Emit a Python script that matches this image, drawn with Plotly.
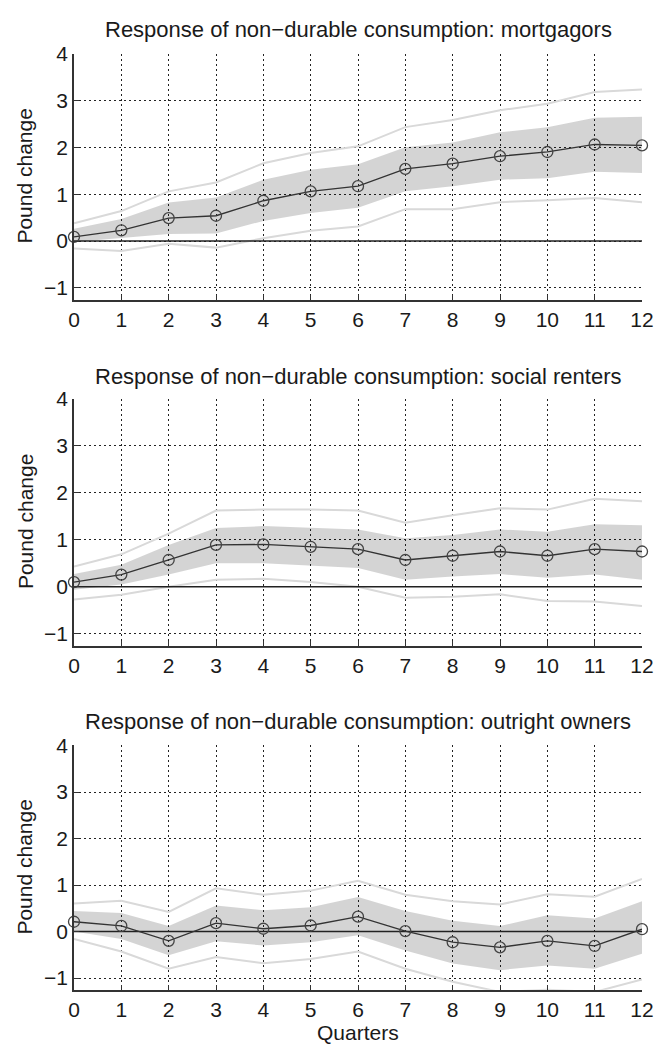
import plotly.graph_objects as go

quarters = list(range(13))
x_ticks = list(range(13))
y_ticks = [-1, 0, 1, 2, 3, 4]

titles = [
    "Response of non\u2212durable consumption: mortgagors",
    "Response of non\u2212durable consumption: social renters",
    "Response of non\u2212durable consumption: outright owners",
]

# mortgagors
mort_pt = [0.09, 0.23, 0.49, 0.54, 0.86, 1.06, 1.17, 1.54, 1.65, 1.81, 1.90, 2.06, 2.04]
mort_band_hi = [0.26, 0.47, 0.82, 0.93, 1.31, 1.52, 1.64, 2.00, 2.10, 2.32, 2.43, 2.63, 2.65]
mort_band_lo = [-0.02, 0.06, 0.15, 0.16, 0.43, 0.60, 0.71, 1.06, 1.17, 1.31, 1.34, 1.48, 1.45]
mort_out_hi = [0.38, 0.64, 1.06, 1.25, 1.66, 1.88, 2.02, 2.43, 2.58, 2.79, 2.93, 3.18, 3.23]
mort_out_lo = [-0.16, -0.21, -0.06, -0.14, 0.06, 0.22, 0.31, 0.68, 0.68, 0.83, 0.87, 0.92, 0.83]

# social renters
soc_pt = [0.10, 0.26, 0.57, 0.89, 0.90, 0.85, 0.80, 0.57, 0.66, 0.75, 0.66, 0.80, 0.75]
soc_band_hi = [0.27, 0.47, 0.89, 1.25, 1.29, 1.26, 1.22, 1.03, 1.10, 1.22, 1.17, 1.33, 1.31]
soc_band_lo = [-0.06, 0.05, 0.26, 0.50, 0.50, 0.45, 0.40, 0.15, 0.22, 0.27, 0.19, 0.26, 0.15]
soc_out_hi = [0.43, 0.69, 1.13, 1.62, 1.64, 1.64, 1.62, 1.36, 1.52, 1.67, 1.64, 1.87, 1.82]
soc_out_lo = [-0.27, -0.17, 0.00, 0.15, 0.17, 0.10, 0.00, -0.23, -0.21, -0.16, -0.30, -0.31, -0.41]

# outright owners
own_pt = [0.21, 0.12, -0.20, 0.18, 0.06, 0.13, 0.32, 0.01, -0.23, -0.34, -0.20, -0.31, 0.05]
own_band_hi = [0.44, 0.40, 0.12, 0.56, 0.46, 0.52, 0.74, 0.44, 0.23, 0.12, 0.35, 0.28, 0.65]
own_band_lo = [0.00, -0.16, -0.51, -0.21, -0.30, -0.23, -0.08, -0.41, -0.69, -0.83, -0.73, -0.80, -0.48]
own_out_hi = [0.60, 0.66, 0.42, 0.93, 0.79, 0.88, 1.09, 0.79, 0.65, 0.58, 0.80, 0.75, 1.13]
own_out_lo = [-0.16, -0.43, -0.80, -0.55, -0.68, -0.59, -0.43, -0.80, -1.08, -1.30, -1.25, -1.30, -1.03]

panels = [
    (mort_pt, mort_band_lo, mort_band_hi, mort_out_lo, mort_out_hi),
    (soc_pt, soc_band_lo, soc_band_hi, soc_out_lo, soc_out_hi),
    (own_pt, own_band_lo, own_band_hi, own_out_lo, own_out_hi),
]

W, H = 656, 1047
# pixel rows of plot areas (top, bottom)
rows_px = [(42, 291), (391, 641), (742, 989)]
title_px = [18, 369, 718]

FONT = "Liberation Sans, Arial, Helvetica, sans-serif"
TXT = "#1a1a1a"
fig = go.Figure()

for i, (pt, blo, bhi, olo, ohi) in enumerate(panels):
    xa = "x" if i == 0 else f"x{i+1}"
    ya = "y" if i == 0 else f"y{i+1}"
    fig.add_trace(go.Scatter(x=quarters, y=blo, mode="lines", line=dict(width=0, color="rgba(0,0,0,0)"),
                             xaxis=xa, yaxis=ya, showlegend=False, hoverinfo="skip"))
    fig.add_trace(go.Scatter(x=quarters, y=bhi, mode="lines", line=dict(width=0, color="rgba(0,0,0,0)"),
                             fill="tonexty", fillcolor="rgba(0,0,0,0.17)",
                             xaxis=xa, yaxis=ya, showlegend=False, hoverinfo="skip"))
    for o in (olo, ohi):
        fig.add_trace(go.Scatter(x=quarters, y=o, mode="lines", line=dict(width=2, color="#d9d9d9"),
                                 xaxis=xa, yaxis=ya, showlegend=False))
    fig.add_trace(go.Scatter(x=quarters, y=[0] * len(quarters), mode="lines",
                             line=dict(width=1.5, color="#222"),
                             xaxis=xa, yaxis=ya, showlegend=False))
    fig.add_trace(go.Scatter(x=quarters, y=pt, mode="lines+markers",
                             line=dict(width=1.3, color="#333"),
                             marker=dict(symbol="circle-open", size=11, color="#444", line=dict(width=1.3)),
                             cliponaxis=False, xaxis=xa, yaxis=ya, showlegend=False))

    top, bot = rows_px[i]
    dom = [1 - bot / H, 1 - top / H]
    axis_common = dict(showgrid=True, gridcolor="#222", griddash="2px,3px", gridwidth=1,
                       showline=True, linecolor="#333", linewidth=1.5, ticks="inside",
                       ticklen=5, tickcolor="#333", zeroline=False,
                       tickfont=dict(family=FONT, size=21, color=TXT))
    fig.layout[("xaxis" if i == 0 else f"xaxis{i+1}")] = dict(
        axis_common, range=[0, 12], tickvals=x_ticks, anchor=ya, domain=[0, 1])
    fig.layout[("yaxis" if i == 0 else f"yaxis{i+1}")] = dict(
        axis_common, range=[-1.25, 4], tickvals=y_ticks, anchor=xa, domain=dom,
        tickformat="d")
    fig.add_annotation(text=titles[i], xref="paper", yref="paper", x=0.5, y=1 - title_px[i] / H,
                       xanchor="center", yanchor="middle", showarrow=False,
                       font=dict(family=FONT, size=22, color=TXT))
    fig.add_annotation(text="Pound change", xref="paper", yref="paper", x=(25 - 74) / 568,
                       y=1 - ((top + bot) / 2) / H, textangle=-90,
                       xanchor="center", yanchor="middle", showarrow=False,
                       font=dict(family=FONT, size=21, color=TXT))

fig.add_annotation(text="Quarters", xref="paper", yref="paper", x=0.5, y=1 - 1032 / H,
                   xanchor="center", yanchor="middle", showarrow=False,
                   font=dict(family=FONT, size=21, color=TXT))

fig.update_layout(width=W, height=H, margin=dict(l=74, r=14, t=0, b=0),
                  paper_bgcolor="white", plot_bgcolor="white")
fig.write_html("out.html")
